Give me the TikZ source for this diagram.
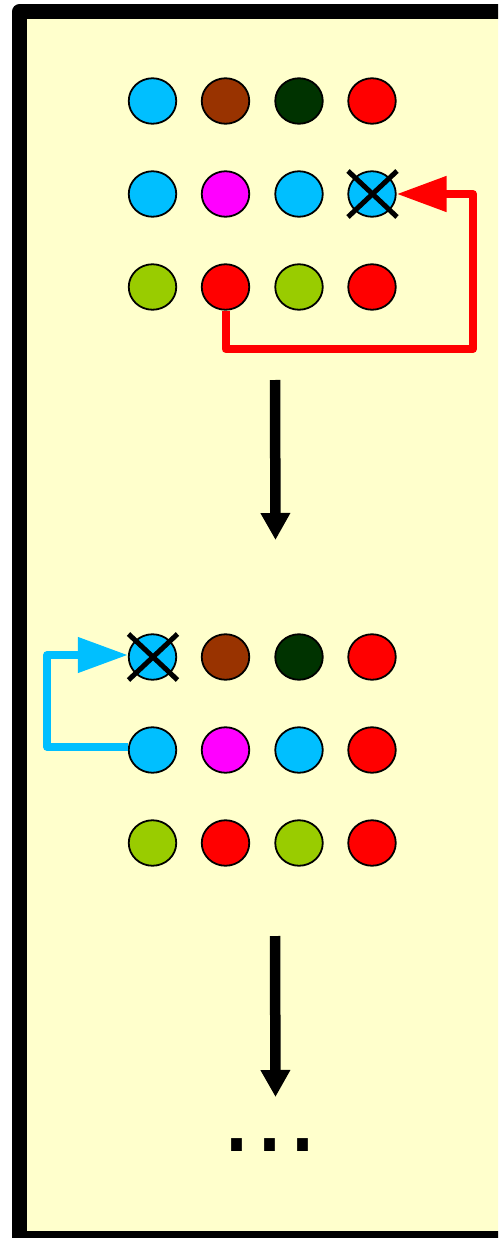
\documentclass[tikz,border=0pt]{standalone}
\usepackage{fontspec}
\usepackage{tikz}
\usetikzlibrary{
    shapes.geometric,
    arrows.meta,
    calc
}
\newfontfamily\dotsfont{DejaVu Sans}
\definecolor{paper}{RGB}{255,255,204}
\definecolor{ballcyan}{RGB}{0,191,255}
\definecolor{ballbrown}{RGB}{153,51,0}
\definecolor{balldark}{RGB}{0,51,0}
\definecolor{ballred}{RGB}{255,0,0}
\definecolor{ballpink}{RGB}{255,0,255}
\definecolor{balllime}{RGB}{153,204,0}

\begin{document}
\begin{tikzpicture}[x=1pt, y=-1pt,
    ball/.style={draw, ellipse, line width=1.8pt, inner sep=0pt,
        minimum width=47.5pt, minimum height=45.5pt},
    crossline/.style={line width=5pt},
    flow/.style={line width=10.5pt, -{Triangle[length=27pt, width=28pt]}},
    redflow/.style={ballred, line width=8pt, line join=round,
        -{Triangle[length=50pt, width=34pt]}},
    blueflow/.style={ballcyan, line width=7.5pt, line join=round,
        -{Triangle[length=50pt, width=34pt]}}]
    \path[use as bounding box] (0, 0) rectangle (498, 1238);
    \clip (0, 0) rectangle (498, 1238);
    \draw[line width=15pt, fill=paper, line join=round] (19.5, 11.7) rectangle (560, 1238);

    % first state
    \node[ball, fill=ballcyan] (a11) at (152.5, 101) {};
    \node[ball, fill=ballbrown] (a12) at (225.5, 101) {};
    \node[ball, fill=balldark] (a13) at (299, 101) {};
    \node[ball, fill=ballred] (a14) at (372, 101) {};
    \node[ball, fill=ballcyan] (a21) at (152.5, 194) {};
    \node[ball, fill=ballpink] (a22) at (225.5, 194) {};
    \node[ball, fill=ballcyan] (a23) at (299, 194) {};
    \node[ball, fill=ballcyan] (a24) at (372, 194) {};
    \node[ball, fill=balllime] (a31) at (152.5, 287) {};
    \node[ball, fill=ballred] (a32) at (225.5, 287) {};
    \node[ball, fill=balllime] (a33) at (299, 287) {};
    \node[ball, fill=ballred] (a34) at (372, 287) {};

    \draw[crossline] ($(a24)+(-24,-23)$) -- ($(a24)+(25,23)$);
    \draw[crossline] ($(a24)+(-24,23)$) -- ($(a24)+(25,-23)$);

    \coordinate (r1) at (473, 349);
    \draw[redflow] (a32.south) |- (r1) |- (a24.east);

    \coordinate (s1) at (275, 380);
    \coordinate (e1) at (275.5, 540);
    \draw[flow] (s1) -- (e1);

    % second state
    \node[ball, fill=ballcyan] (b11) at (152.5, 657) {};
    \node[ball, fill=ballbrown] (b12) at (225.5, 657) {};
    \node[ball, fill=balldark] (b13) at (299, 657) {};
    \node[ball, fill=ballred] (b14) at (372, 657) {};
    \node[ball, fill=ballcyan] (b21) at (152.5, 750) {};
    \node[ball, fill=ballpink] (b22) at (225.5, 750) {};
    \node[ball, fill=ballcyan] (b23) at (299, 750) {};
    \node[ball, fill=ballred] (b24) at (372, 750) {};
    \node[ball, fill=balllime] (b31) at (152.5, 843) {};
    \node[ball, fill=ballred] (b32) at (225.5, 843) {};
    \node[ball, fill=balllime] (b33) at (299, 843) {};
    \node[ball, fill=ballred] (b34) at (372, 843) {};

    \draw[crossline] ($(b11)+(-24,-23)$) -- ($(b11)+(25,23)$);
    \draw[crossline] ($(b11)+(-24,23)$) -- ($(b11)+(25,-23)$);

    \coordinate (c1) at (47, 655);
    \draw[blueflow] ([yshift=3pt]b21.west) -| (c1) -- ([yshift=2pt]b11.west);

    \coordinate (s2) at (275, 936);
    \coordinate (e2) at (275.5, 1097);
    \draw[flow] (s2) -- (e2);

    \node[inner sep=0pt, font=\dotsfont\fontsize{104}{104}\selectfont] (more) at (270, 1145) {...};
\end{tikzpicture}
\end{document}
